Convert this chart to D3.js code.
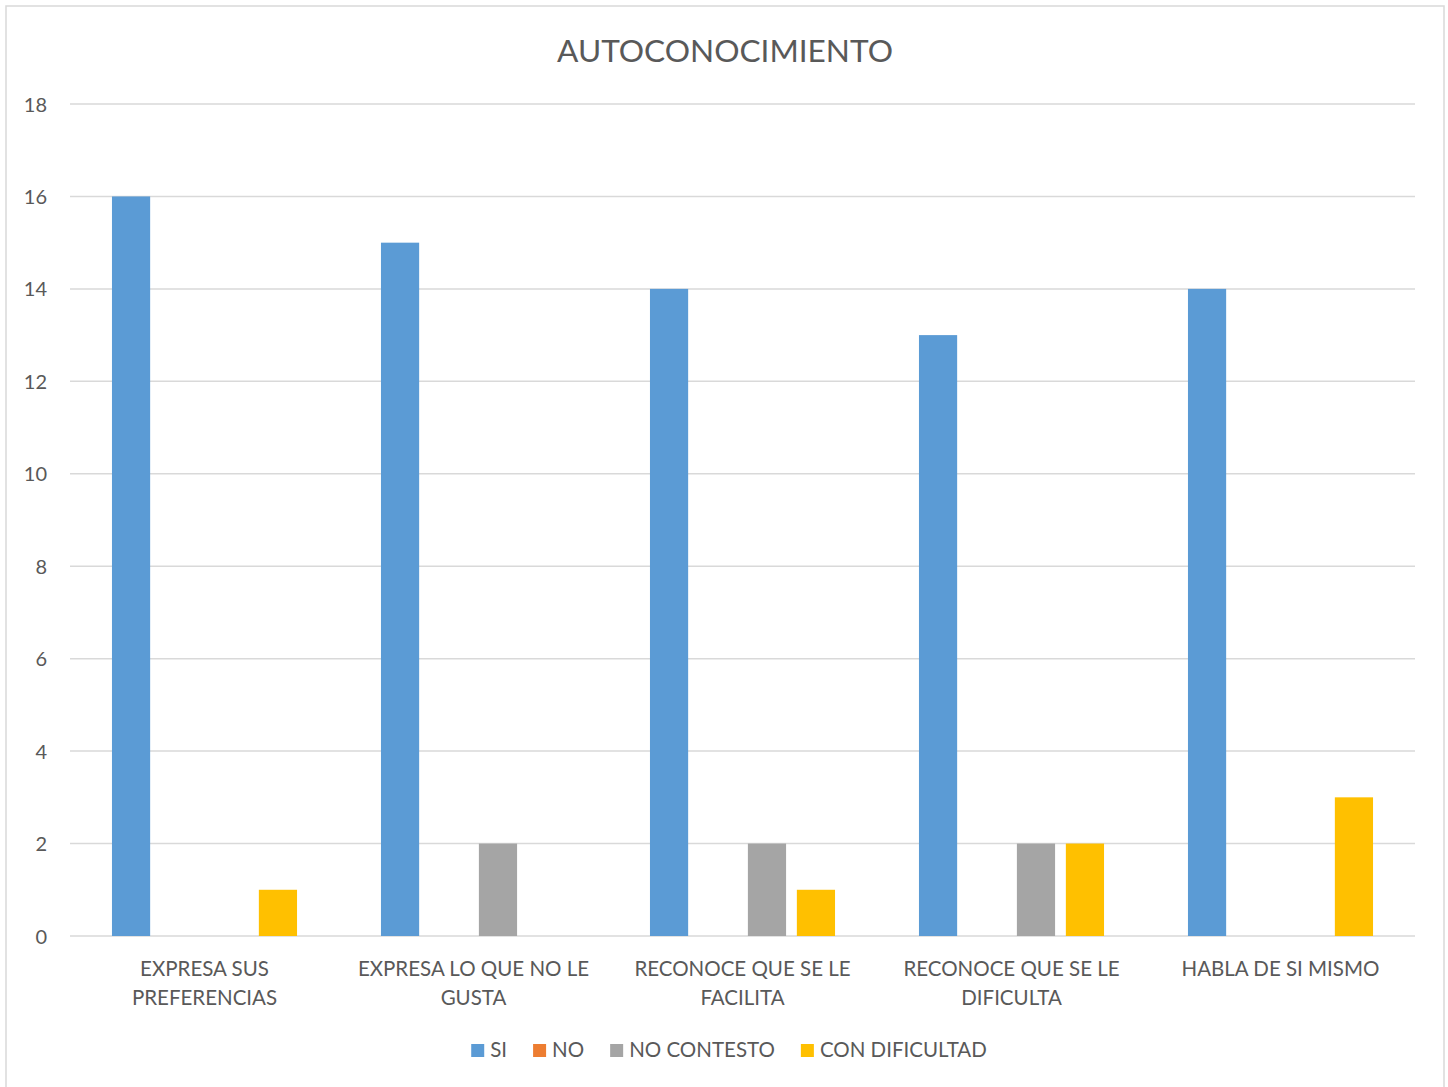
<!DOCTYPE html>
<html><head><meta charset="utf-8">
<script src="https://cdn.jsdelivr.net/npm/d3@7"></script>
<style>body{margin:0;background:#fff}svg{display:block}text{font-family:Lato,"Open Sans",sans-serif;fill:#595959}</style>
</head><body>
<script>
const title = "AUTOCONOCIMIENTO";
const categories = [
  ["EXPRESA SUS","PREFERENCIAS"],
  ["EXPRESA LO QUE NO LE","GUSTA"],
  ["RECONOCE QUE SE LE","FACILITA"],
  ["RECONOCE QUE SE LE","DIFICULTA"],
  ["HABLA DE SI MISMO"]
];
const seriesNames = ["SI","NO","NO CONTESTO","CON DIFICULTAD"];
const seriesColors = ["#5b9bd5","#ed7d31","#a5a5a5","#ffc000"];
const valuesSI = [16,15,14,13,14];
const valuesNO = [0,0,0,0,0];
const valuesNoContesto = [0,2,2,2,0];
const valuesConDificultad = [1,0,1,2,3];
const yTicks = [0,2,4,6,8,10,12,14,16,18];

(function(){
const series = [valuesSI, valuesNO, valuesNoContesto, valuesConDificultad];
const W = 1448, H = 1087;
const svg = d3.select("body").append("svg").attr("width",W).attr("height",H);
svg.append("rect").attr("x",6).attr("y",6).attr("width",1438).attr("height",1090)
  .attr("fill","#fff").attr("stroke","#d9d9d9").attr("stroke-width",1.5);

const pLeft = 70, pRight = 1415, pTop = 104, pBottom = 936;
const y = d3.scaleLinear().domain([0,18]).range([pBottom, pTop]);
const catIdx = d3.range(categories.length);
const x0 = d3.scaleBand().domain(catIdx).range([pLeft,pRight]).paddingInner(0.312).paddingOuter(0.156);
const x1 = d3.scaleBand().domain(d3.range(series.length)).range([0,x0.bandwidth()]).paddingInner(0.22);

svg.append("text").attr("x",725).attr("y",62).attr("text-anchor","middle")
  .style("font-size","31.6px").text(title);

const grid = svg.append("g");
grid.selectAll("line").data(yTicks).join("line")
  .attr("x1",pLeft).attr("x2",pRight).attr("y1",d=>y(d)).attr("y2",d=>y(d))
  .attr("stroke","#d9d9d9").attr("stroke-width",1.5);

const yAxis = d3.axisLeft(y).tickValues(yTicks).tickSize(0).tickPadding(0);
const ya = svg.append("g").attr("transform",`translate(47,0)`).call(yAxis);
ya.select(".domain").remove();
ya.selectAll("text").style("font-size","20px").attr("fill","#595959").attr("dy","0.35em")
  .style("font-family","Lato,'Open Sans',sans-serif");

const bars = svg.append("g");
catIdx.forEach(ci=>{
  series.forEach((s,si)=>{
    if (s[ci] <= 0) return;
    bars.append("rect").attr("x",x0(ci)+x1(si)).attr("width",x1.bandwidth())
      .attr("y",y(s[ci])).attr("height",y(0)-y(s[ci])).attr("fill",seriesColors[si]);
  });
});

const lab = svg.append("g");
catIdx.forEach(ci=>{
  const cx = x0(ci)+x0.bandwidth()/2;
  const t = lab.append("text").attr("text-anchor","middle").style("font-size","20.5px");
  categories[ci].forEach((line,li)=>{
    t.append("tspan").attr("x",cx).attr("y",976+li*29).text(line);
  });
});

const lg = svg.append("g");
let items = [];
let xpos = 0;
seriesNames.forEach((n,i)=>{
  const g = lg.append("g");
  g.append("rect").attr("x",0).attr("y",-13).attr("width",13).attr("height",13).attr("fill",seriesColors[i]);
  const t = g.append("text").attr("x",19).attr("y",0).style("font-size","20.5px").text(n);
  const w = 19 + t.node().getComputedTextLength();
  items.push({g, x: xpos});
  xpos += w + 26;
});
const total = xpos - 26;
const startX = 729 - total/2;
items.forEach(it=>it.g.attr("transform",`translate(${startX+it.x},1057)`));
})();
</script>
</body></html>
